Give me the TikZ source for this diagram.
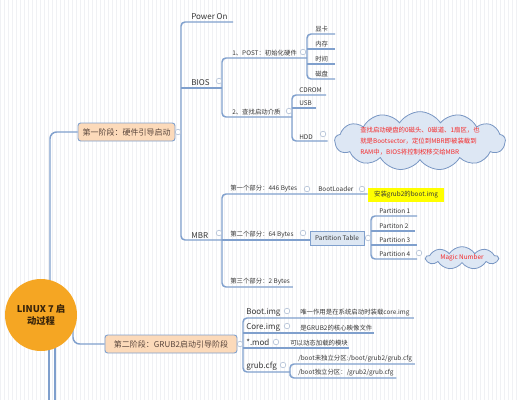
\documentclass[tikz,border=0pt]{standalone}
\usepackage{fontspec}
\setmainfont{Noto Sans CJK SC}
\usetikzlibrary{shapes.symbols,backgrounds,calc}
\definecolor{lc}{RGB}{128,160,205}
\definecolor{peach}{RGB}{252,218,186}
\definecolor{stc}{RGB}{90,70,60}
\definecolor{tc}{RGB}{55,55,55}
\definecolor{rootc}{RGB}{245,166,35}
\definecolor{roottxt}{RGB}{55,35,10}
\definecolor{ybg}{RGB}{255,255,0}
\definecolor{ptfill}{RGB}{221,231,243}
\definecolor{cfill}{RGB}{221,231,244}
\definecolor{cline}{RGB}{120,150,195}
\definecolor{redt}{RGB}{245,40,40}
\definecolor{mkc}{RGB}{175,190,212}
\definecolor{gridc}{RGB}{240,241,244}
\begin{document}
\begin{tikzpicture}[x=0.75pt,y=-0.75pt,
  conn/.style={draw=lc,line width=1.1pt},
  rc/.style={conn,rounded corners=3pt},
  lab/.style={anchor=south west,inner xsep=0pt,inner ysep=1.3pt,text=tc,font=\fontsize{6}{7}\selectfont},
  sm/.style={lab,font=\fontsize{4.8}{5.6}\selectfont},
  mk/.style={circle,draw=mkc,fill=white,line width=0.45pt,minimum size=4.2pt,inner sep=0pt},
  stagebox/.style={draw=lc,fill=peach,rounded corners=2pt,line width=0.7pt,minimum height=13.5pt,text=stc,font=\fontsize{6}{7}\selectfont,inner sep=0pt},
  cloudbox/.style={cloud,cloud puffs=13,cloud puff arc=115,draw=cline,fill=cfill,line width=0.6pt,inner sep=0pt}
]
\useasboundingbox (0,0) rectangle (517,400);

% root
\node[circle,fill=rootc,minimum size=54pt,inner sep=0pt,align=center,text=roottxt,font=\fontsize{7}{9.5}\selectfont\bfseries] (root) at (41,315) {LINUX 7 启\\动过程};

% stage boxes
\node[stagebox,minimum width=72.75pt] (s1) at (126.5,132) {第一阶段：硬件引导启动};
\node[stagebox,minimum width=99pt] (s2) at (171,344) {第二阶段：GRUB2启动引导阶段};

% stage 1 main branches
\node[lab] (po) at (191,22) {Power On};
\node[lab] (bios) at (191,88) {BIOS};
\node[lab] (mbr) at (191,240) {MBR};

% BIOS children
\node[sm] (post) at (232,58) {1、POST：初始化硬件};
\node[sm] (find) at (232,117) {2、查找启动介质};
\node[sm] (k1) at (315,34) {显卡};
\node[sm] (k2) at (315,49) {内存};
\node[sm] (k3) at (315,64) {时间};
\node[sm] (k4) at (315,79) {磁盘};
\node[sm] (cd) at (299,95) {CDROM};
\node[sm] (usb) at (299,108) {USB};
\node[sm] (hdd) at (299,141) {HDD};

% cloud
\node[cloudbox,minimum width=128pt,minimum height=44pt] (cl) at (420,141) {};
\node[align=left,text=redt,font=\fontsize{4.8}{8.2}\selectfont,inner sep=0pt] (clt) at (cl.center) {查找启动硬盘的0磁头、0磁道、1扇区，也\\就是Bootsector，定位到MBR即被装载到\\RAM中，BIOS将控制权移交给MBR};

% MBR children
\node[sm] (p1) at (230,194) {第一个部分：446 Bytes};
\node[sm] (bl) at (318,194) {BootLoader};
\node[fill=ybg,minimum width=57pt,minimum height=10.5pt,inner sep=0pt,text=tc,font=\fontsize{4.8}{5.6}\selectfont] (yb) at (406,195) {安装grub2的boot.img};
\node[sm] (p2) at (230,240) {第二个部分：64 Bytes};
\node[draw=lc,fill=ptfill,line width=0.6pt,minimum width=40.5pt,minimum height=10.5pt,inner sep=0pt,text=tc,font=\fontsize{4.8}{5.6}\selectfont] (pt) at (337,238) {Partition Table};
\node[sm] (q1) at (379,216) {Partition 1};
\node[sm] (q2) at (379,231) {Partiton 2};
\node[sm] (q3) at (379,245) {Partition 3};
\node[sm] (q4) at (379,259) {Partition 4};
\node[cloudbox,cloud puffs=9,minimum width=54pt,minimum height=17pt] (mn) at (462,258) {};
\node[text=redt,font=\fontsize{4.8}{5.6}\selectfont,inner sep=0pt] (mnt) at (mn.center) {Magic Number};
\node[sm] (p3) at (230,287) {第三个部分：2 Bytes};

% stage 2 children
\node[lab] (bi) at (246,318) {Boot.img};
\node[sm] (d1) at (300,318) {唯一作用是在系统启动时装载core.img};
\node[lab] (ci) at (246,333) {Core.img};
\node[sm] (d2) at (300,333) {是GRUB2的核心映像文件};
\node[lab] (mo) at (246,348) {*.mod};
\node[sm] (d3) at (290,348) {可以动态加载的模块};
\node[lab] (gc) at (246,372) {grub.cfg};
\node[sm] (g1) at (298,364) {/boot未独立分区:/boot/grub2/grub.cfg};
\node[sm] (g2) at (298,378) {/boot独立分区：/grub2/grub.cfg};

% junction coordinates
\coordinate (r1) at (50,0);
\coordinate (r2) at (73,0);
\coordinate (dn1) at (49,400);
\coordinate (dn2) at (55,400);
\coordinate (j1) at (181,132);
\coordinate (jB) at (222,88);
\coordinate (jM) at (222,240);
\coordinate (jP) at (307,58);
\coordinate (jF) at (292,117);
\coordinate (jT) at (371,238);
\coordinate (jS) at (243,344);
\coordinate (jG) at (290,372);

% markers
\node[mk] (m1) at (178,132) {};
\node[mk] (m2) at (219,81) {};
\node[mk] (m3) at (219,233) {};
\node[mk] (m4) at (303,52) {};
\node[mk] (m5) at (289,111) {};
\node[mk] (m6) at (323,134) {};
\node[mk] (m7) at (307,189) {};
\node[mk] (m8) at (362,189) {};
\node[mk] (m9) at (303,233) {};
\node[mk] (m10) at (368,238) {};
\node[mk] (m11) at (419,253) {};
\node[mk] (m12) at (240,344) {};
\node[mk] (m13) at (287,311) {};
\node[mk] (m14) at (287,326) {};
\node[mk] (m15) at (276,342) {};
\node[mk] (m16) at (283,365) {};

\begin{scope}[on background layer]
  \fill[white] (0,0) rectangle (517,400);
  \draw[gridc,line width=0.25pt,step=4] (0,0) grid (517,400);
  % root connectors
  \draw[rc,rounded corners=5pt] (root.center -| r1) |- (s1.west);
  \draw[rc,rounded corners=5pt] (root.center -| r2) |- (s2.west);
  \draw[conn] (root.center -| dn1) -- (dn1);
  \draw[conn] (root.center -| dn2) -- (dn2);
  % stage 1 spine
  \draw[conn] (s1.east) -- (j1);
  \draw[rc] ([xshift=4pt]po.south east) -| (j1) |- (jM);
  \draw[conn] (bios.south -| j1) -- (jB);
  % BIOS group
  \draw[rc] (jP) -| (jB) |- (jF);
  % POST group
  \draw[rc] ([xshift=5pt]k1.south east) -| (jP) |- ([xshift=5pt]k4.south east);
  \draw[conn] (k2.south -| jP) -- ([xshift=5pt]k2.south east);
  \draw[conn] (k3.south -| jP) -- ([xshift=5pt]k3.south east);
  % find group
  \draw[rc] ([xshift=3pt]cd.south east) -| (jF) |- ([xshift=11pt]hdd.south east);
  \draw[conn] (usb.south -| jF) -- ([xshift=3pt]usb.south east);
  % MBR group
  \draw[rc] (yb.west |- p1.south) -| (jM) |- ([xshift=2pt]p3.south east);
  \draw[conn] (jM) -- (pt.west |- jM);
  \draw[conn] (pt.east) -- (jT);
  % partition group
  \draw[rc] ([xshift=5pt]q1.south east) -| (jT) |- ([xshift=5pt]q4.south east);
  \draw[conn] (q2.south -| jT) -- ([xshift=5pt]q2.south east);
  \draw[conn] (q3.south -| jT) -- ([xshift=5pt]q3.south east);
  % stage 2 group
  \draw[conn] (s2.east) -- (jS);
  \draw[rc] ([xshift=3pt]d1.south east) -| (jS) |- (jG);
  \draw[conn] (ci.south -| jS) -- ([xshift=1pt]d2.south east);
  \draw[conn] (mo.south -| jS) -- ([xshift=1pt]d3.south east);
  % grub.cfg group
  \draw[rc] ([xshift=2pt]g1.south east) -| (jG) |- ([xshift=2pt]g2.south east);
\end{scope}
\end{tikzpicture}
\end{document}
